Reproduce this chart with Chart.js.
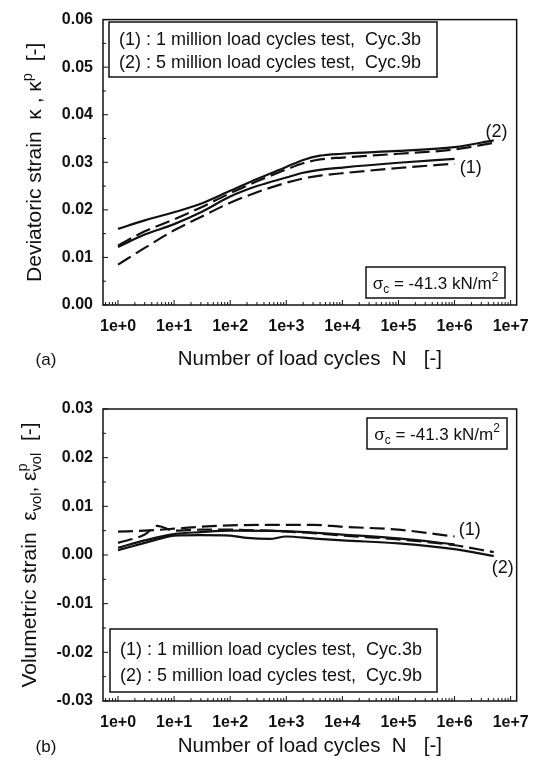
<!DOCTYPE html>
<html>
<head>
<meta charset="utf-8">
<script src="https://cdn.jsdelivr.net/npm/chart.js@4.4.1/dist/chart.umd.min.js"></script>
<style>
  html, body { margin: 0; padding: 0; background: #fff; }
  body { width: 541px; height: 767px; position: relative; overflow: hidden; }
  canvas { position: absolute; left: 0; }
  #chart-dev { top: 0; }
  #chart-vol { top: 383px; }
</style>
</head>
<body>
<canvas id="chart-dev" width="541" height="383"></canvas>
<canvas id="chart-vol" width="541" height="384"></canvas>
<script>
const FONT = '"Liberation Sans", Arial, Helvetica, sans-serif';
const INK = "#111";

// shared x axis: number of load cycles
const cycleTicks = [1, 10, 100, 1000, 10000, 100000, 1000000, 10000000];
const cycleTickLabels = ["1e+0", "1e+1", "1e+2", "1e+3", "1e+4", "1e+5", "1e+6", "1e+7"];

// (a) deviatoric strain
const devTicks = [0, 0.01, 0.02, 0.03, 0.04, 0.05, 0.06];
const devN1 = [1, 3, 10, 30, 100, 300, 1000, 2000, 4000, 10000, 100000, 1000000];
const devTotal1 = [0.0122, 0.0148, 0.0170, 0.0195, 0.0228, 0.0250, 0.0268, 0.0278, 0.0284, 0.0289, 0.0299, 0.0307];
const devPlastic1 = [0.0085, 0.0120, 0.0157, 0.0185, 0.0215, 0.0237, 0.0257, 0.0266, 0.0272, 0.0277, 0.0288, 0.0297];
const devN2 = [1, 3, 10, 30, 100, 300, 1000, 2000, 4000, 10000, 100000, 1000000, 5000000];
const devTotal2 = [0.0160, 0.0178, 0.0195, 0.0213, 0.0240, 0.0265, 0.0290, 0.0305, 0.0314, 0.0318, 0.0324, 0.0332, 0.0346];
const devPlastic2 = [0.0125, 0.0155, 0.0180, 0.0205, 0.0235, 0.0260, 0.0285, 0.0298, 0.0306, 0.0310, 0.0318, 0.0327, 0.0341];

// (b) volumetric strain
const volTicks = [-0.03, -0.02, -0.01, 0, 0.01, 0.02, 0.03];
const volN1 = [1, 3, 10, 30, 100, 1000, 3000, 10000, 100000, 1000000];
const volTotal1 = [0.0015, 0.0030, 0.0043, 0.0047, 0.0050, 0.0049, 0.0046, 0.0042, 0.0034, 0.0022];
const volPlastic1 = [0.0048, 0.0050, 0.0054, 0.0058, 0.0061, 0.0062, 0.0062, 0.0058, 0.0052, 0.0038];
const volN2 = [1, 3, 5, 10, 30, 100, 200, 500, 1000, 3000, 10000, 100000, 1000000, 5000000];
const volTotal2 = [0.0010, 0.0025, 0.0032, 0.0040, 0.0041, 0.0040, 0.0035, 0.0033, 0.0038, 0.0034, 0.0030, 0.0024, 0.0012, -0.0002];
const volPlastic2 = [0.0025, 0.0042, 0.0060, 0.0050, 0.0052, 0.0052, 0.0051, 0.0050, 0.0048, 0.0045, 0.0040, 0.0032, 0.0020, 0.0006];

const legendRows = [
  "(1) : 1 million load cycles test,  Cyc.3b",
  "(2) : 5 million load cycles test,  Cyc.9b",
];
const sigmaParts = [{ t: "σ" }, { t: "c", s: "sub" }, { t: " = -41.3 kN/m" }, { t: "2", s: "sup" }];

function pts(xs, ys) {
  return xs.map((x, i) => ({ x: x, y: ys[i] }));
}

function line(data, dashed) {
  return {
    data: data,
    borderColor: INK,
    borderWidth: 2.2,
    borderDash: dashed ? [15, 6] : [],
    pointRadius: 0,
    cubicInterpolationMode: "monotone",
    fill: false,
  };
}

function richWidth(ctx, parts, size) {
  let w = 0;
  parts.forEach((p) => {
    ctx.font = (p.s ? size * 0.7 : size) + "px " + FONT;
    if (!p.keep) w += ctx.measureText(p.t).width;
  });
  return w;
}

function drawRich(ctx, parts, x, y, size) {
  let cx = x;
  parts.forEach((p) => {
    const sz = p.s ? size * 0.7 : size;
    ctx.font = sz + "px " + FONT;
    const dy = p.s === "sup" ? -size * 0.42 : p.s === "sub" ? size * 0.24 : 0;
    ctx.fillText(p.t, cx, y + dy);
    if (!p.keep) cx += ctx.measureText(p.t).width;
  });
}

function decor(cfg) {
  return {
    id: "decor",
    afterDraw(chart) {
      const ctx = chart.ctx;
      const a = chart.chartArea;
      const x = chart.scales.x;
      const y = chart.scales.y;
      ctx.save();
      ctx.strokeStyle = INK;
      ctx.fillStyle = INK;
      ctx.setLineDash([]);

      // frame
      ctx.lineWidth = 1.5;
      ctx.strokeRect(a.left, a.top, a.right - a.left, a.bottom - a.top);

      // inward ticks
      ctx.lineWidth = 1;
      ctx.beginPath();
      cfg.yTicks.forEach((v, i) => {
        const py = y.getPixelForValue(v);
        ctx.moveTo(a.left, py);
        ctx.lineTo(a.left + 5, py);
        if (i < cfg.yTicks.length - 1) {
          const pm = y.getPixelForValue((v + cfg.yTicks[i + 1]) / 2);
          ctx.moveTo(a.left, pm);
          ctx.lineTo(a.left + 3, pm);
        }
      });
      for (let d = -1; d <= 7; d++) {
        for (let m = 1; m <= 9; m++) {
          const v = m * Math.pow(10, d);
          if (v < x.min || v > x.max) continue;
          const px = x.getPixelForValue(v);
          ctx.moveTo(px, a.bottom);
          ctx.lineTo(px, a.bottom - (m === 1 ? 5 : 3));
        }
      }
      ctx.stroke();

      // y title (rotated, with sub/superscripts)
      ctx.textAlign = "left";
      ctx.textBaseline = "alphabetic";
      const ts = cfg.yTitleSize;
      const tw = richWidth(ctx, cfg.yTitle, ts);
      ctx.save();
      ctx.translate(cfg.yTitleX, (a.top + a.bottom) / 2);
      ctx.rotate(-Math.PI / 2);
      drawRich(ctx, cfg.yTitle, -tw / 2, ts * 0.36, ts);
      ctx.restore();

      // legend box
      const lb = cfg.legendBox;
      ctx.lineWidth = 1.5;
      ctx.strokeRect(lb.x, lb.y, lb.w, lb.h);
      ctx.font = "18px " + FONT;
      ctx.textBaseline = "middle";
      legendRows.forEach((row, i) => {
        ctx.fillText(row, lb.x + 10, lb.rows[i]);
      });

      // sigma box
      const sb = cfg.sigmaBox;
      ctx.strokeRect(sb.x, sb.y, sb.w, sb.h);
      ctx.textBaseline = "alphabetic";
      const sw = richWidth(ctx, sigmaParts, 17);
      drawRich(ctx, sigmaParts, sb.x + (sb.w - sw) / 2, sb.y + sb.h / 2 + 6, 17);

      // curve labels
      ctx.font = "18px " + FONT;
      ctx.textAlign = "center";
      ctx.textBaseline = "middle";
      cfg.curveLabels.forEach((l) => {
        ctx.fillText(l.text, x.getPixelForValue(l.x), y.getPixelForValue(l.y));
      });

      // panel letter
      ctx.font = "17px " + FONT;
      ctx.fillText(cfg.panel.text, cfg.panel.x, cfg.panel.y);
      ctx.restore();
    },
  };
}

function makeChart(id, datasets, o) {
  return new Chart(document.getElementById(id), {
    type: "line",
    data: { datasets: datasets },
    options: {
      responsive: false,
      animation: false,
      layout: { padding: { left: 0, top: o.padTop, right: 23, bottom: 0 } },
      plugins: { legend: { display: false }, tooltip: { enabled: false } },
      scales: {
        x: {
          type: "logarithmic",
          min: 0.54,
          max: 12800000,
          afterBuildTicks: (s) => { s.ticks = cycleTicks.map((v) => ({ value: v })); },
          afterFit: (s) => { s.height = o.xHeight; },
          grid: { display: false, drawTicks: false },
          border: { display: false },
          ticks: {
            autoSkip: false,
            maxRotation: 0,
            padding: 12,
            color: INK,
            font: { family: FONT, size: 16, weight: "bold" },
            callback: (v, i) => cycleTickLabels[i],
          },
          title: {
            display: true,
            text: "Number of load cycles  N   [-]",
            color: INK,
            font: { family: FONT, size: 20.5 },
            padding: { top: 0, bottom: o.xTitlePad },
          },
        },
        y: {
          min: o.yTicks[0],
          max: o.yTicks[o.yTicks.length - 1],
          afterBuildTicks: (s) => { s.ticks = o.yTicks.map((v) => ({ value: v })); },
          afterFit: (s) => { s.width = 103; },
          grid: { display: false, drawTicks: false },
          border: { display: false },
          ticks: {
            padding: 10,
            color: INK,
            font: { family: FONT, size: 16, weight: "bold" },
            callback: (v, i) => (Math.abs(o.yTicks[i]) < 1e-9 ? 0 : o.yTicks[i]).toFixed(2),
          },
        },
      },
    },
    plugins: [decor(o)],
  });
}

makeChart("chart-dev", [
  line(pts(devN1, devTotal1), false),
  line(pts(devN1, devPlastic1), true),
  line(pts(devN2, devTotal2), false),
  line(pts(devN2, devPlastic2), true),
], {
  padTop: 15,
  xHeight: 78,
  xTitlePad: 11,
  yTicks: devTicks,
  yTitleX: 33,
  yTitleSize: 21,
  yTitle: [{ t: "Deviatoric strain  κ , κ" }, { t: "p", s: "sup" }, { t: "  [-]" }],
  legendBox: { x: 109, y: 22, w: 328, h: 55, rows: [40, 63] },
  sigmaBox: { x: 366, y: 267, w: 139, h: 31 },
  curveLabels: [
    { text: "(2)", x: 5600000, y: 0.0364 },
    { text: "(1)", x: 1950000, y: 0.0288 },
  ],
  panel: { text: "(a)", x: 46, y: 360 },
});

makeChart("chart-vol", [
  line(pts(volN1, volTotal1), false),
  line(pts(volN1, volPlastic1), true),
  line(pts(volN2, volTotal2), false),
  line(pts(volN2, volPlastic2), true),
], {
  padTop: 26,
  xHeight: 66,
  xTitlePad: 8,
  yTicks: volTicks,
  yTitleX: 28,
  yTitleSize: 21,
  yTitle: [
    { t: "Volumetric strain  ε" }, { t: "vol", s: "sub" }, { t: ", ε" },
    { t: "p", s: "sup", keep: true }, { t: "vol", s: "sub" }, { t: "  [-]" },
  ],
  legendBox: { x: 110, y: 246, w: 327, h: 63, rows: [267, 293] },
  sigmaBox: { x: 367, y: 35, w: 140, h: 31 },
  curveLabels: [
    { text: "(1)", x: 1870000, y: 0.0052 },
    { text: "(2)", x: 7200000, y: -0.0026 },
  ],
  panel: { text: "(b)", x: 46, y: 364 },
});
</script>
</body>
</html>
